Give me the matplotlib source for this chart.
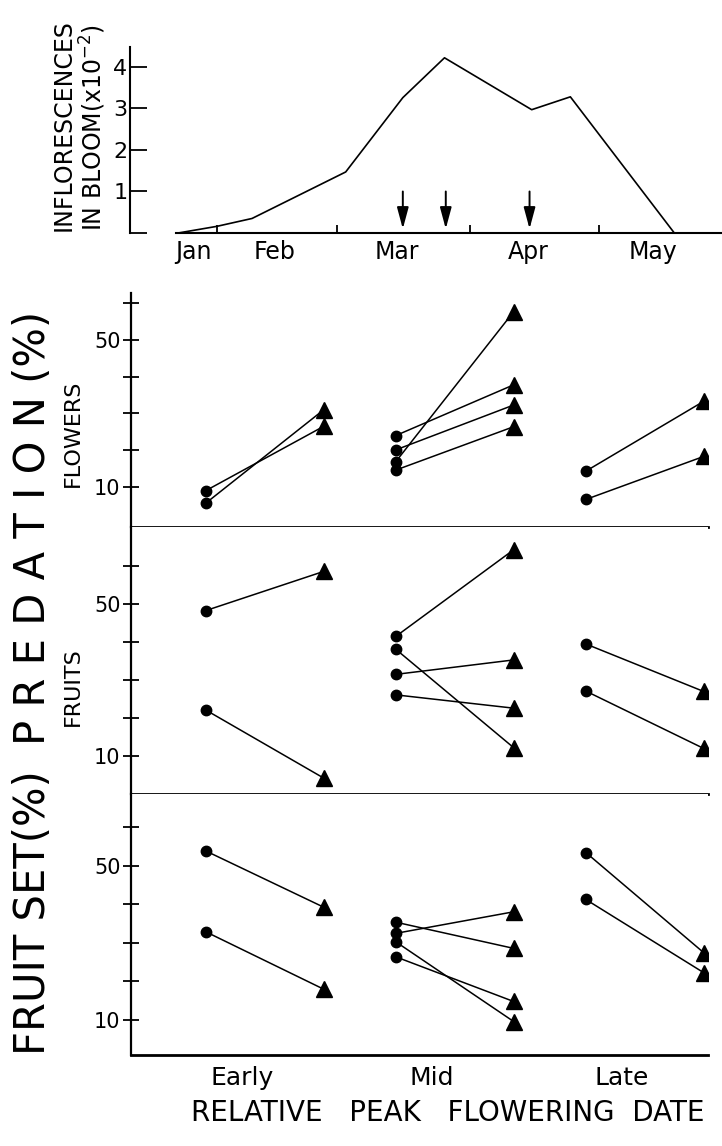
import matplotlib
matplotlib.use('Agg')
import matplotlib.pyplot as plt

plt.rcParams['font.family'] = ['DejaVu Sans']

# top panel: inflorescences in bloom (x10^-2) against day of year
bloom_days = [22.0, 31.0, 39.2, 61.0, 74.3, 84.0, 104.3, 113.3, 137.5]
bloom_counts = [0.0, 0.16, 0.35, 1.47, 3.26, 4.22, 2.97, 3.28, 0.0]
peak_days = [74.3, 84.3, 103.8]
month_ends = [31, 59, 90, 120]
month_names = ['Jan', 'Feb', 'Mar', 'Apr', 'May']
month_label_days = [25.5, 44.5, 73.0, 103.5, 132.5]

# lower panels: value before (circle) and after (triangle), per group
groups = ['Early', 'Mid', 'Late']
flowers_before = [[9.0, 5.6], [24.0, 20.1, 16.9, 14.6], [14.3, 6.6]]
flowers_after = [[26.5, 31.0], [37.8, 32.3, 57.7, 26.4], [33.3, 18.3]]
fruits_before = [[48.3, 22.1], [41.5, 38.1, 31.5, 26.1], [39.5, 27.1]]
fruits_after = [[58.6, 4.2], [64.3, 12.2, 35.3, 22.6], [27.0, 12.0]]
fruitset_before = [[53.9, 32.9], [35.4, 32.5, 30.3, 26.4], [53.5, 41.3]]
fruitset_after = [[39.3, 18.0], [28.6, 38.1, 9.6, 14.8], [27.5, 22.3]]
pct_ticks = [10, 20, 30, 40, 50, 60]
pct_labels = ['10', '', '', '', '50', '']

W, H = 722, 1146


def px_box(left, top, right, bottom):
    return [left / W, 1 - bottom / H, (right - left) / W, (bottom - top) / H]


fig = plt.figure(figsize=(W / 100, H / 100), dpi=100)
fig.patch.set_facecolor('white')

# ---- top panel
ax0 = fig.add_axes(px_box(176, 47, 722, 233))
ax0.plot(bloom_days, bloom_counts, color='k', lw=1.2)
for d in peak_days:
    ax0.annotate('', xy=(d, 0.1), xytext=(d, 1.0),
                 arrowprops=dict(arrowstyle='-|>,head_length=1.3,head_width=0.35',
                                 color='k', lw=1.4, mutation_scale=10,
                                 shrinkA=0, shrinkB=0))
ax0.set_xlim(21.5, 148.6)
ax0.set_ylim(0, 4.48)
for s in ['top', 'right']:
    ax0.spines[s].set_visible(False)
ax0.spines['left'].set_position(('outward', 33))
ax0.spines['left'].set_linewidth(1.5)
ax0.spines['bottom'].set_linewidth(1.5)
ax0.set_yticks([0, 1, 2, 3, 4])
ax0.set_yticklabels(['', '1', '2', '3', '4'], fontsize=16)
ax0.tick_params(axis='y', direction='in', length=12, width=1.3, pad=2)
ax0.set_xticks(month_ends)
ax0.set_xticklabels([])
ax0.tick_params(axis='x', which='major', direction='in', length=6, width=1.3)
ax0.set_xticks(month_label_days, minor=True)
ax0.set_xticklabels(month_names, minor=True, fontsize=17)
ax0.tick_params(axis='x', which='minor', length=0, pad=5)

fig.text(64 / W, 1 - 231 / H, 'INFLORESCENCES', rotation=90,
         ha='center', va='bottom', fontsize=17)
fig.text(93 / W, 1 - 231 / H, r'IN BLOOM(x10$^{-2}$)', rotation=90,
         ha='center', va='bottom', fontsize=17)

# ---- lower panels
x_before, x_after = -0.19, 0.43


def pair_panel(ax, before, after, ylim):
    for g, (b_vals, a_vals) in enumerate(zip(before, after)):
        for b, a in zip(b_vals, a_vals):
            ax.plot([g + x_before, g + x_after], [b, a], color='k', lw=1.1)
        ax.plot([g + x_before] * len(b_vals), b_vals, 'o', ms=7.5, color='k')
        ax.plot([g + x_after] * len(a_vals), a_vals, '^', ms=12, color='k')
    ax.set_xlim(-0.584, 2.453)
    ax.set_ylim(*ylim)
    for s in ['top', 'right']:
        ax.spines[s].set_visible(False)
    ax.spines['left'].set_linewidth(1.6)
    ax.spines['bottom'].set_linewidth(2.0)
    ax.set_yticks(pct_ticks)
    ax.set_yticklabels(pct_labels, fontsize=15)
    ax.tick_params(axis='y', direction='inout', length=11, width=1.3, pad=2)
    ax.set_xticks([])


ax1 = fig.add_axes(px_box(131, 293, 708, 527))
pair_panel(ax1, flowers_before, flowers_after, (-0.9, 62.8))
ax2 = fig.add_axes(px_box(131, 527, 708, 794))
pair_panel(ax2, fruits_before, fruits_after, (0, 70.3))
ax3 = fig.add_axes(px_box(131, 794, 708, 1055))
pair_panel(ax3, fruitset_before, fruitset_after, (0.9, 68.7))
ax3.set_xticks(range(len(groups)))
ax3.set_xticklabels(groups, fontsize=18)
ax3.tick_params(axis='x', length=0, pad=8)

fig.text(73 / W, 1 - 433 / H, 'FLOWERS', rotation=90, ha='center', va='center', fontsize=16)
fig.text(73 / W, 1 - 687 / H, 'FRUITS', rotation=90, ha='center', va='center', fontsize=16)
fig.text(33 / W, 1 - 913 / H, 'FRUIT SET(%)', rotation=90, ha='center', va='center', fontsize=30)
fig.text(33 / W, 1 - 528 / H, 'P R E D A T I O N (%)', rotation=90,
         ha='center', va='center', fontsize=30)

fig.text(448 / W, 1 - 1113 / H, 'RELATIVE   PEAK   FLOWERING  DATE',
         ha='center', va='center', fontsize=20)

fig.savefig('out.png', dpi=100, facecolor='white')
